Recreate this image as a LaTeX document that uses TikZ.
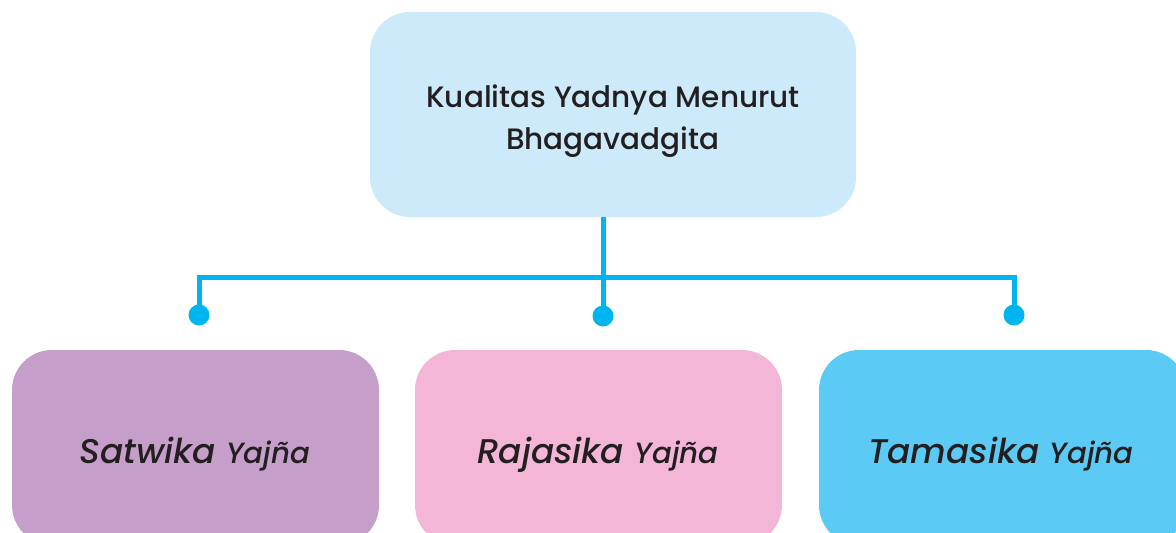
\documentclass[tikz,border=0pt]{standalone}
\usepackage{fontspec}
\setmainfont{Poppins}[UprightFont=* Medium, ItalicFont=* Medium Italic]
\definecolor{headfill}{HTML}{CCEAF9}
\definecolor{linkblue}{HTML}{00B5EF}
\definecolor{satfill}{HTML}{C59FC9}
\definecolor{rajfill}{HTML}{F4B6D6}
\definecolor{tamfill}{HTML}{5BCBF5}
\definecolor{ink}{HTML}{231F20}
\tikzset{
  card/.style={rounded corners=40pt, inner sep=0pt, draw=none},
  headtext/.style={text=ink, align=center, inner sep=0pt, font=\fontsize{29.5}{42}\selectfont},
  itemtext/.style={text=ink, anchor=base, inner sep=0pt, font=\itshape},
  link/.style={draw=linkblue, line width=5pt},
  knob/.style={circle, fill=linkblue, minimum size=21pt, inner sep=0pt},
}
\newcommand{\bigword}[1]{{\fontsize{34.3}{40}\selectfont #1 }}
\newcommand{\smallword}[1]{{\fontsize{29.3}{34}\selectfont #1}}
\begin{document}
\begin{tikzpicture}[x=1pt,y=-1pt]
  \useasboundingbox (0,0) rectangle (1176,533);
  % head box
  \node[card, fill=headfill, minimum width=486pt, minimum height=205pt] (head) at (613,114.5) {};
  \node[headtext] (headlabel) at (613,121) {Kualitas Yadnya Menurut\\Bhagavadgita};
  % three category boxes
  \node[card, fill=satfill, minimum width=367pt, minimum height=195pt] (sat) at (195.5,447.5) {};
  \node[card, fill=rajfill, minimum width=367pt, minimum height=195pt] (raj) at (598.5,447.5) {};
  \node[card, fill=tamfill, minimum width=367pt, minimum height=195pt] (tam) at (1002.5,447.5) {};
  \node[itemtext] (satlabel) at (195,463) {\bigword{Satwika}\smallword{Yajña}};
  \node[itemtext] (rajlabel) at (598,463) {\bigword{Rajasika}\smallword{Yajña}};
  \node[itemtext] (tamlabel) at (1001,463) {\bigword{Tamasika}\smallword{Yajña}};
  % connector tree
  \node[knob] (k1) at (199,315) {};
  \node[knob] (k2) at (603,316) {};
  \node[knob] (k3) at (1014,315) {};
  \coordinate (bar) at (603,277);
  \draw[link] (head.south -| k2) -- (k2.center);
  \draw[link] (k1.center) |- (bar) -| (k3.center);
\end{tikzpicture}
\end{document}
